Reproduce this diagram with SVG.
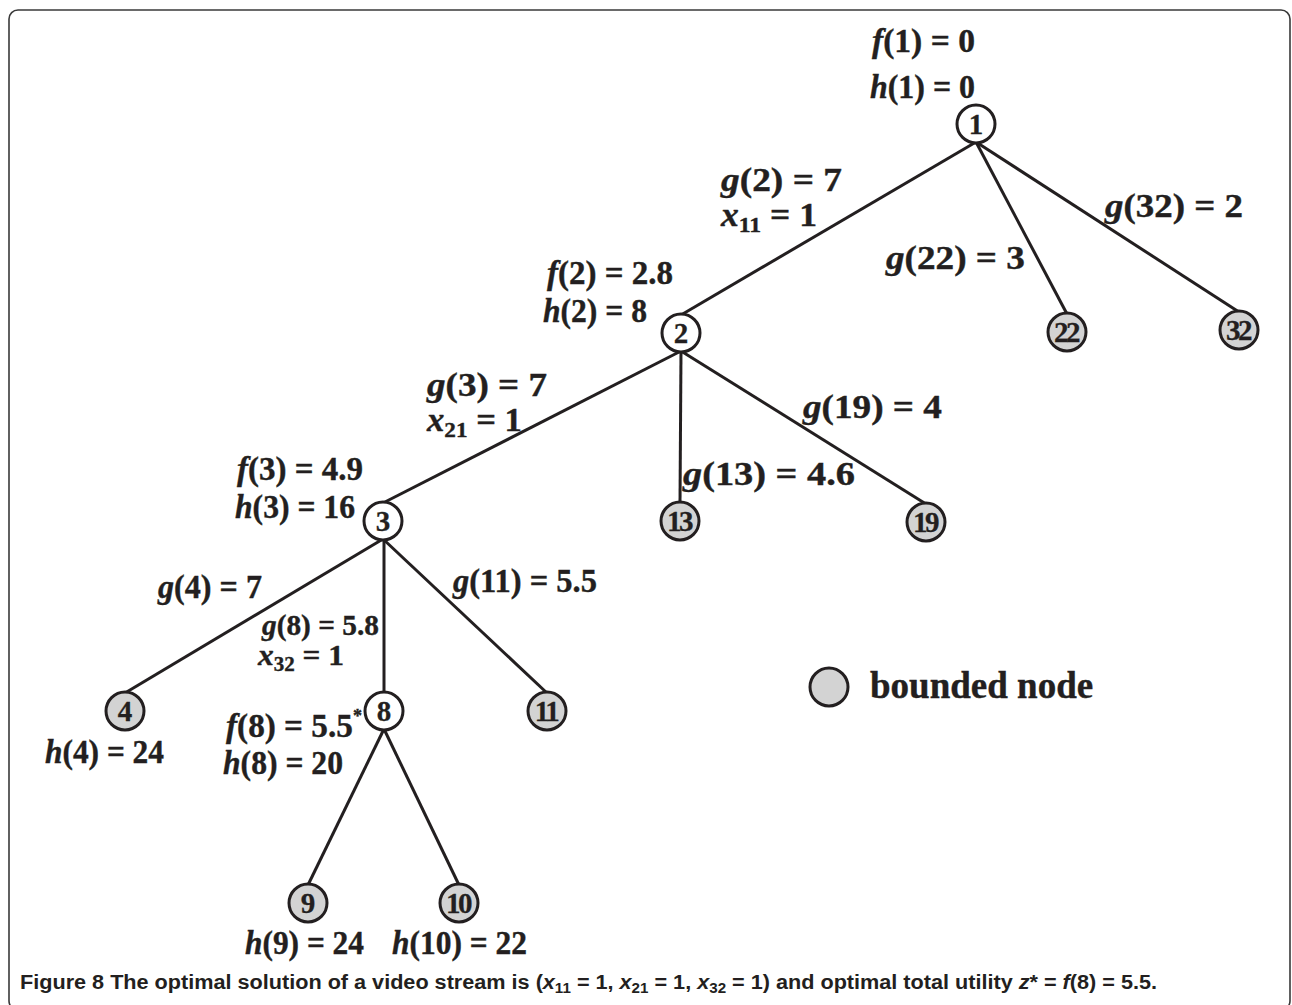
<svg xmlns="http://www.w3.org/2000/svg" width="1292" height="1005" viewBox="0 0 1292 1005">
  <style>
    .lbl { font-family: "Liberation Serif", "Times New Roman", serif; font-weight: bold; font-size: 33px; fill: #231f20; stroke: #231f20; stroke-width: 0.4; }
    .it { font-style: italic; }
    .sub { font-size: 22px; }
    .nid { font-family: "Liberation Serif", "Times New Roman", serif; font-weight: bold; font-size: 29px; fill: #231f20; text-anchor: middle; stroke: #231f20; stroke-width: 0.3; }
    .nid2 { letter-spacing: -2.5px; }
    .node { stroke: #231f20; stroke-width: 3; fill: #ffffff; }
    .bounded { fill: #d3d3d3; }
    .edge { stroke: #231f20; stroke-width: 3; fill: none; }
    .cap { font-family: "Liberation Sans", Arial, sans-serif; font-weight: bold; font-size: 20px; fill: #231f20; }
  </style>

  <!-- outer frame -->
  <rect x="9" y="10" width="1281" height="1000" rx="9" ry="9" fill="none" stroke="#3a3a3a" stroke-width="1.6"/>

  <!-- connectors -->
  <g id="edges">
    <line class="edge" x1="976" y1="142" x2="681" y2="315"/>
    <line class="edge" x1="976" y1="142" x2="1067" y2="314"/>
    <line class="edge" x1="976" y1="142" x2="1239" y2="312"/>
    <line class="edge" x1="681" y1="351" x2="383" y2="503"/>
    <line class="edge" x1="681" y1="351" x2="680" y2="503"/>
    <line class="edge" x1="681" y1="351" x2="926" y2="504"/>
    <line class="edge" x1="383" y1="539" x2="125" y2="693"/>
    <line class="edge" x1="384" y1="539" x2="384" y2="693"/>
    <line class="edge" x1="383" y1="539" x2="547" y2="693"/>
    <line class="edge" x1="384" y1="729" x2="308" y2="885"/>
    <line class="edge" x1="384" y1="729" x2="459" y2="885"/>
  </g>

  <!-- edge labels -->
  <g id="edge-labels">
    <text class="lbl" x="721" y="191" textLength="121" lengthAdjust="spacingAndGlyphs"><tspan class="it">g</tspan>(2) = 7</text>
    <text class="lbl" x="721" y="226" textLength="96" lengthAdjust="spacingAndGlyphs"><tspan class="it">x</tspan><tspan class="sub" dy="6">11</tspan><tspan dy="-6"> = 1</tspan></text>
    <text class="lbl" x="1105" y="217" textLength="138" lengthAdjust="spacingAndGlyphs"><tspan class="it">g</tspan>(32) = 2</text>
    <text class="lbl" x="886" y="269" textLength="139" lengthAdjust="spacingAndGlyphs"><tspan class="it">g</tspan>(22) = 3</text>
    <text class="lbl" x="427" y="396" textLength="120" lengthAdjust="spacingAndGlyphs"><tspan class="it">g</tspan>(3) = 7</text>
    <text class="lbl" x="427" y="431" textLength="95" lengthAdjust="spacingAndGlyphs"><tspan class="it">x</tspan><tspan class="sub" dy="6">21</tspan><tspan dy="-6"> = 1</tspan></text>
    <text class="lbl" x="803" y="418" textLength="139" lengthAdjust="spacingAndGlyphs"><tspan class="it">g</tspan>(19) = 4</text>
    <text class="lbl" x="683" y="485" textLength="172" lengthAdjust="spacingAndGlyphs"><tspan class="it">g</tspan>(13) = 4.6</text>
    <text class="lbl" x="158" y="598" textLength="104" lengthAdjust="spacingAndGlyphs"><tspan class="it">g</tspan>(4) = 7</text>
    <text class="lbl" x="453" y="592" textLength="144" lengthAdjust="spacingAndGlyphs"><tspan class="it">g</tspan>(11) = 5.5</text>
    <text class="lbl" x="262" y="635" textLength="117" lengthAdjust="spacingAndGlyphs" style="font-size:30px"><tspan class="it">g</tspan>(8) = 5.8</text>
    <text class="lbl" x="258" y="665" textLength="86" lengthAdjust="spacingAndGlyphs" style="font-size:30px"><tspan class="it">x</tspan><tspan class="sub" dy="6" style="font-size:20px">32</tspan><tspan dy="-6"> = 1</tspan></text>
  </g>

  <!-- node annotations -->
  <g id="node-labels">
    <text class="lbl" x="872" y="52" textLength="103" lengthAdjust="spacingAndGlyphs"><tspan class="it">f</tspan>(1) = 0</text>
    <text class="lbl" x="870" y="98" textLength="105" lengthAdjust="spacingAndGlyphs"><tspan class="it">h</tspan>(1) = 0</text>
    <text class="lbl" x="547" y="284" textLength="126" lengthAdjust="spacingAndGlyphs"><tspan class="it">f</tspan>(2) = 2.8</text>
    <text class="lbl" x="543" y="322" textLength="104" lengthAdjust="spacingAndGlyphs"><tspan class="it">h</tspan>(2) = 8</text>
    <text class="lbl" x="237" y="480" textLength="126" lengthAdjust="spacingAndGlyphs"><tspan class="it">f</tspan>(3) = 4.9</text>
    <text class="lbl" x="235" y="518" textLength="120" lengthAdjust="spacingAndGlyphs"><tspan class="it">h</tspan>(3) = 16</text>
    <text class="lbl" x="226" y="737" textLength="136" lengthAdjust="spacingAndGlyphs"><tspan class="it">f</tspan>(8) = 5.5<tspan style="font-size:18px" dy="-15">*</tspan></text>
    <text class="lbl" x="45" y="763" textLength="119" lengthAdjust="spacingAndGlyphs"><tspan class="it">h</tspan>(4) = 24</text>
    <text class="lbl" x="223" y="774" textLength="120" lengthAdjust="spacingAndGlyphs"><tspan class="it">h</tspan>(8) = 20</text>
    <text class="lbl" x="245" y="954" textLength="119" lengthAdjust="spacingAndGlyphs"><tspan class="it">h</tspan>(9) = 24</text>
    <text class="lbl" x="392" y="954" textLength="135" lengthAdjust="spacingAndGlyphs"><tspan class="it">h</tspan>(10) = 22</text>
  </g>

  <!-- nodes -->
  <g id="n1"><circle class="node" cx="976" cy="124" r="19"/><text class="nid" x="976" y="134">1</text></g>
  <g id="n2"><circle class="node" cx="681" cy="333" r="19"/><text class="nid" x="681" y="343">2</text></g>
  <g id="n22"><circle class="node bounded" cx="1067" cy="332" r="19"/><text class="nid nid2" x="1066" y="342">22</text></g>
  <g id="n32"><circle class="node bounded" cx="1239" cy="330" r="19"/><text class="nid nid2" x="1238" y="340">32</text></g>
  <g id="n3"><circle class="node" cx="383" cy="521" r="19"/><text class="nid" x="383" y="531">3</text></g>
  <g id="n13"><circle class="node bounded" cx="680" cy="521" r="19"/><text class="nid nid2" x="679" y="531">13</text></g>
  <g id="n19"><circle class="node bounded" cx="926" cy="522" r="19"/><text class="nid nid2" x="925" y="532">19</text></g>
  <g id="n4"><circle class="node bounded" cx="125" cy="711" r="19"/><text class="nid" x="125" y="721">4</text></g>
  <g id="n8"><circle class="node" cx="384" cy="711" r="19"/><text class="nid" x="384" y="721">8</text></g>
  <g id="n11"><circle class="node bounded" cx="547" cy="711" r="19"/><text class="nid nid2" x="546" y="721">11</text></g>
  <g id="n9"><circle class="node bounded" cx="308" cy="903" r="19"/><text class="nid" x="308" y="913">9</text></g>
  <g id="n10"><circle class="node bounded" cx="459" cy="903" r="19"/><text class="nid nid2" x="458" y="913">10</text></g>

  <!-- legend -->
  <g id="legend">
    <circle class="node bounded" cx="829" cy="687" r="19"/>
    <text class="lbl" x="870" y="698" style="font-size:37px">bounded node</text>
  </g>

  <!-- caption -->
  <text class="cap" x="20" y="989" textLength="1137" lengthAdjust="spacingAndGlyphs">Figure 8 The optimal solution of a video stream is (<tspan font-style="italic">x</tspan><tspan font-size="14" dy="4">11</tspan><tspan dy="-4"> = 1, </tspan><tspan font-style="italic">x</tspan><tspan font-size="14" dy="4">21</tspan><tspan dy="-4"> = 1, </tspan><tspan font-style="italic">x</tspan><tspan font-size="14" dy="4">32</tspan><tspan dy="-4"> = 1) and optimal total utility </tspan><tspan font-style="italic">z</tspan>* = <tspan font-style="italic">f</tspan>(8) = 5.5.</text>
</svg>
